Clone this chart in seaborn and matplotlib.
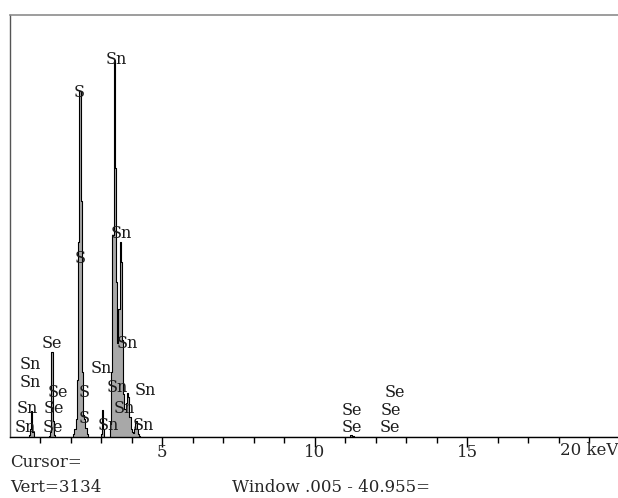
import matplotlib
matplotlib.use("Agg")
import matplotlib.pyplot as plt
import seaborn as sns
import pandas as pd

# ---- data ----
energy_kev = [0.05, 0.60, 0.64, 0.68, 0.72, 0.76, 0.80,
              1.26, 1.30, 1.34, 1.38, 1.42, 1.46, 1.50,
              2.06, 2.10, 2.14, 2.18, 2.22, 2.26, 2.30, 2.34, 2.38, 2.42, 2.46, 2.50, 2.54, 2.58,
              2.96, 3.00, 3.04, 3.08, 3.12,
              3.26, 3.30, 3.34, 3.38, 3.42, 3.46, 3.50, 3.54, 3.58, 3.62, 3.66, 3.70, 3.74,
              3.78, 3.82, 3.86, 3.90, 3.94, 3.98, 4.02, 4.06, 4.10, 4.14, 4.18, 4.22, 4.26, 4.30,
              11.10, 11.18, 11.26, 11.34, 19.9]
counts = [0, 0, 15, 60, 190, 40, 0,
          0, 8, 40, 630, 120, 15, 0,
          0, 20, 60, 130, 420, 1450, 2570, 1750, 480, 160, 130, 70, 25, 0,
          0, 20, 200, 60, 0,
          0, 100, 480, 1500, 2800, 2000, 1150, 700, 950, 1450, 1300, 720, 320,
          210, 250, 330, 300, 150, 60, 40, 30, 60, 120, 60, 25, 10, 0,
          0, 15, 8, 0, 0]

label_text = ["Sn", "S", "S", "Sn", "Se", "Sn", "Sn", "Sn", "Sn", "Se", "S",
              "Sn", "Sn", "Sn", "Se", "Sn", "S", "Sn", "Se", "Sn", "Sn",
              "Se", "Se", "Se", "Se", "Se"]
label_kev = [3.48, 2.27, 2.30, 3.65, 1.38, 0.66, 0.66, 2.99, 3.84, 1.58, 2.43,
             3.52, 4.43, 0.56, 1.45, 3.74, 2.43, 0.50, 1.42, 3.22, 4.37,
             12.63, 11.22, 12.50, 11.22, 12.47]
label_cnt = [2800, 2562, 1329, 1508, 698, 535, 408, 512, 698, 327, 327,
             364, 342, 215, 215, 215, 141, 74, 74, 89, 82,
             327, 200, 200, 67, 67]

major_ticks = [5, 10, 15]
major_labels = ["5", "10", "15"]
minor_ticks = list(range(1, 20))

# ---- style ----
sns.set_theme(style="white")
plt.rcParams["font.family"] = ["DejaVu Serif"]

fig = plt.figure(figsize=(6.18, 4.98), dpi=100)
ax = fig.add_axes([9.8 / 618, 61 / 498, 1 - 9.8 / 618, 422 / 498])

df = pd.DataFrame({"keV": energy_kev, "counts": counts})
ax.fill_between(df["keV"], df["counts"], step="mid", color="#a8a8a8", lw=0)
sns.lineplot(data=df, x="keV", y="counts", ax=ax, drawstyle="steps-mid",
             color="black", lw=0.8, estimator=None)

for t, xk, yc in zip(label_text, label_kev, label_cnt):
    ax.text(xk, yc, t, ha="center", va="center", fontsize=11.5, color="#1a1a1a")

ax.set_xlim(0, 19.94)
ax.set_ylim(0, 3134)
ax.set_xlabel("")
ax.set_ylabel("")
ax.set_yticks([])
ax.set_xticks(major_ticks)
ax.set_xticklabels(major_labels, fontsize=12)
ax.set_xticks(minor_ticks, minor=True)
ax.tick_params(axis="x", which="major", direction="out", length=7, width=1,
               color="black", pad=-2, bottom=True)
ax.tick_params(axis="x", which="minor", direction="out", length=4, width=1,
               color="black", bottom=True)

ax.spines["right"].set_visible(False)
ax.spines["top"].set_color("#8c8c8c")
ax.spines["top"].set_linewidth(1.2)
ax.spines["left"].set_color("#555555")
ax.spines["left"].set_linewidth(1.0)
ax.spines["bottom"].set_color("black")
ax.spines["bottom"].set_linewidth(1.0)

fig.text(1.0, 1 - 450 / 498, "20 keV", ha="right", va="center", fontsize=12)
fig.text(10 / 618, 1 - 462 / 498, "Cursor=", ha="left", va="center", fontsize=12)
fig.text(10 / 618, 1 - 487 / 498, "Vert=3134", ha="left", va="center", fontsize=12)
fig.text(232 / 618, 1 - 487 / 498, "Window .005 - 40.955=", ha="left", va="center", fontsize=12)

fig.savefig("out.png", dpi=100, facecolor="white")
